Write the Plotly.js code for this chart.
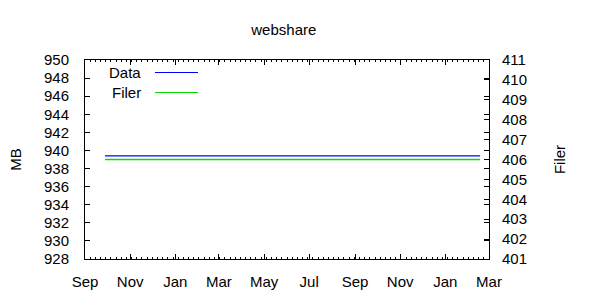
<!DOCTYPE html>
<html>
<head>
<meta charset="utf-8">
<script src="https://cdn.plot.ly/plotly-3.0.1.min.js"></script>
<style>html,body{margin:0;padding:0;background:#fff;}#chart{width:600px;height:300px;}</style>
</head>
<body>
<div id="chart"></div>
<script>
// Data
const dates = ['2009-09-28', '2011-02-17'];
const dataMB = [939.4, 939.4];
const filer = [406.0, 406.0];
const seriesNames = ['Data', 'Filer'];
const xTickVals = ['2009-09-01','2009-11-01','2010-01-01','2010-03-01','2010-05-01','2010-07-01','2010-09-01','2010-11-01','2011-01-01','2011-03-01'];
const xTickText = ['Sep','Nov','Jan','Mar','May','Jul','Sep','Nov','Jan','Mar'];

const font = 'Liberation Sans, Arial, sans-serif';
const blue = '#0000ff', green = '#00dd00';
const fs = 15;

const traces = [
  {x: dates, y: dataMB, name: seriesNames[0], mode: 'lines', line: {color: blue, width: 1.4}, yaxis: 'y'},
  {x: dates, y: filer, name: seriesNames[1], mode: 'lines', line: {color: green, width: 1.4}, yaxis: 'y2'}
];

function lx(px){return (px-85)/404;}
function ly(py){return (259-py)/199;}

const layout = {
  width: 600, height: 300,
  margin: {l: 85, r: 111, t: 60, b: 41},
  paper_bgcolor: '#fff', plot_bgcolor: '#fff',
  showlegend: false,
  font: {family: font, size: fs, color: '#000'},
  title: {text: 'webshare', x: 0.473, xanchor: 'center', y: 0.9, yanchor: 'middle', font: {family: font, size: fs, color: '#000'}},
  xaxis: {
    type: 'date', range: ['2009-09-01', '2011-03-01'],
    tickvals: xTickVals, ticktext: xTickText,
    ticks: 'inside', ticklen: 5, tickcolor: '#000', tickwidth: 1,
    showline: true, linecolor: '#000', linewidth: 1, mirror: 'ticks',
    showgrid: false, zeroline: false, ticklabelstandoff: 9,
    minor: {dtick: 7*86400000, tick0: '2009-09-01', ticks: 'inside', ticklen: 2, tickcolor: '#000', showgrid: false},
    tickfont: {family: font, size: fs, color: '#000'}
  },
  yaxis: {
    range: [928, 950], dtick: 2, tick0: 928,
    ticks: 'inside', ticklen: 5, tickcolor: '#000',
    showline: true, linecolor: '#000', linewidth: 1, mirror: 'ticks',
    showgrid: false, zeroline: false, ticklabelstandoff: 12,
    title: {text: 'MB', standoff: 18, font: {family: font, size: fs, color: '#000'}},
    tickfont: {family: font, size: fs, color: '#000'}
  },
  yaxis2: {
    range: [401, 411], dtick: 1, tick0: 401, overlaying: 'y', side: 'right',
    ticks: 'inside', ticklen: 5, tickcolor: '#000',
    showline: false, showgrid: false, zeroline: false, ticklabelstandoff: 12,
    title: {text: 'Filer', standoff: 28, font: {family: font, size: fs, color: '#000'}},
    tickfont: {family: font, size: fs, color: '#000'}
  },
  annotations: [
    {xref: 'paper', yref: 'paper', x: lx(143), y: ly(72), xanchor: 'right', yanchor: 'middle', text: seriesNames[0], showarrow: false, font: {family: font, size: fs, color: '#000'}},
    {xref: 'paper', yref: 'paper', x: lx(143), y: ly(92), xanchor: 'right', yanchor: 'middle', text: seriesNames[1], showarrow: false, font: {family: font, size: fs, color: '#000'}}
  ],
  shapes: [
    {type: 'line', xref: 'paper', yref: 'paper', x0: lx(155), x1: lx(198), y0: ly(72.5), y1: ly(72.5), line: {color: blue, width: 1.2}},
    {type: 'line', xref: 'paper', yref: 'paper', x0: lx(155), x1: lx(198), y0: ly(92.5), y1: ly(92.5), line: {color: green, width: 1.2}}
  ]
};

Plotly.newPlot('chart', traces, layout, {displayModeBar: false, staticPlot: true});
</script>
</body>
</html>
